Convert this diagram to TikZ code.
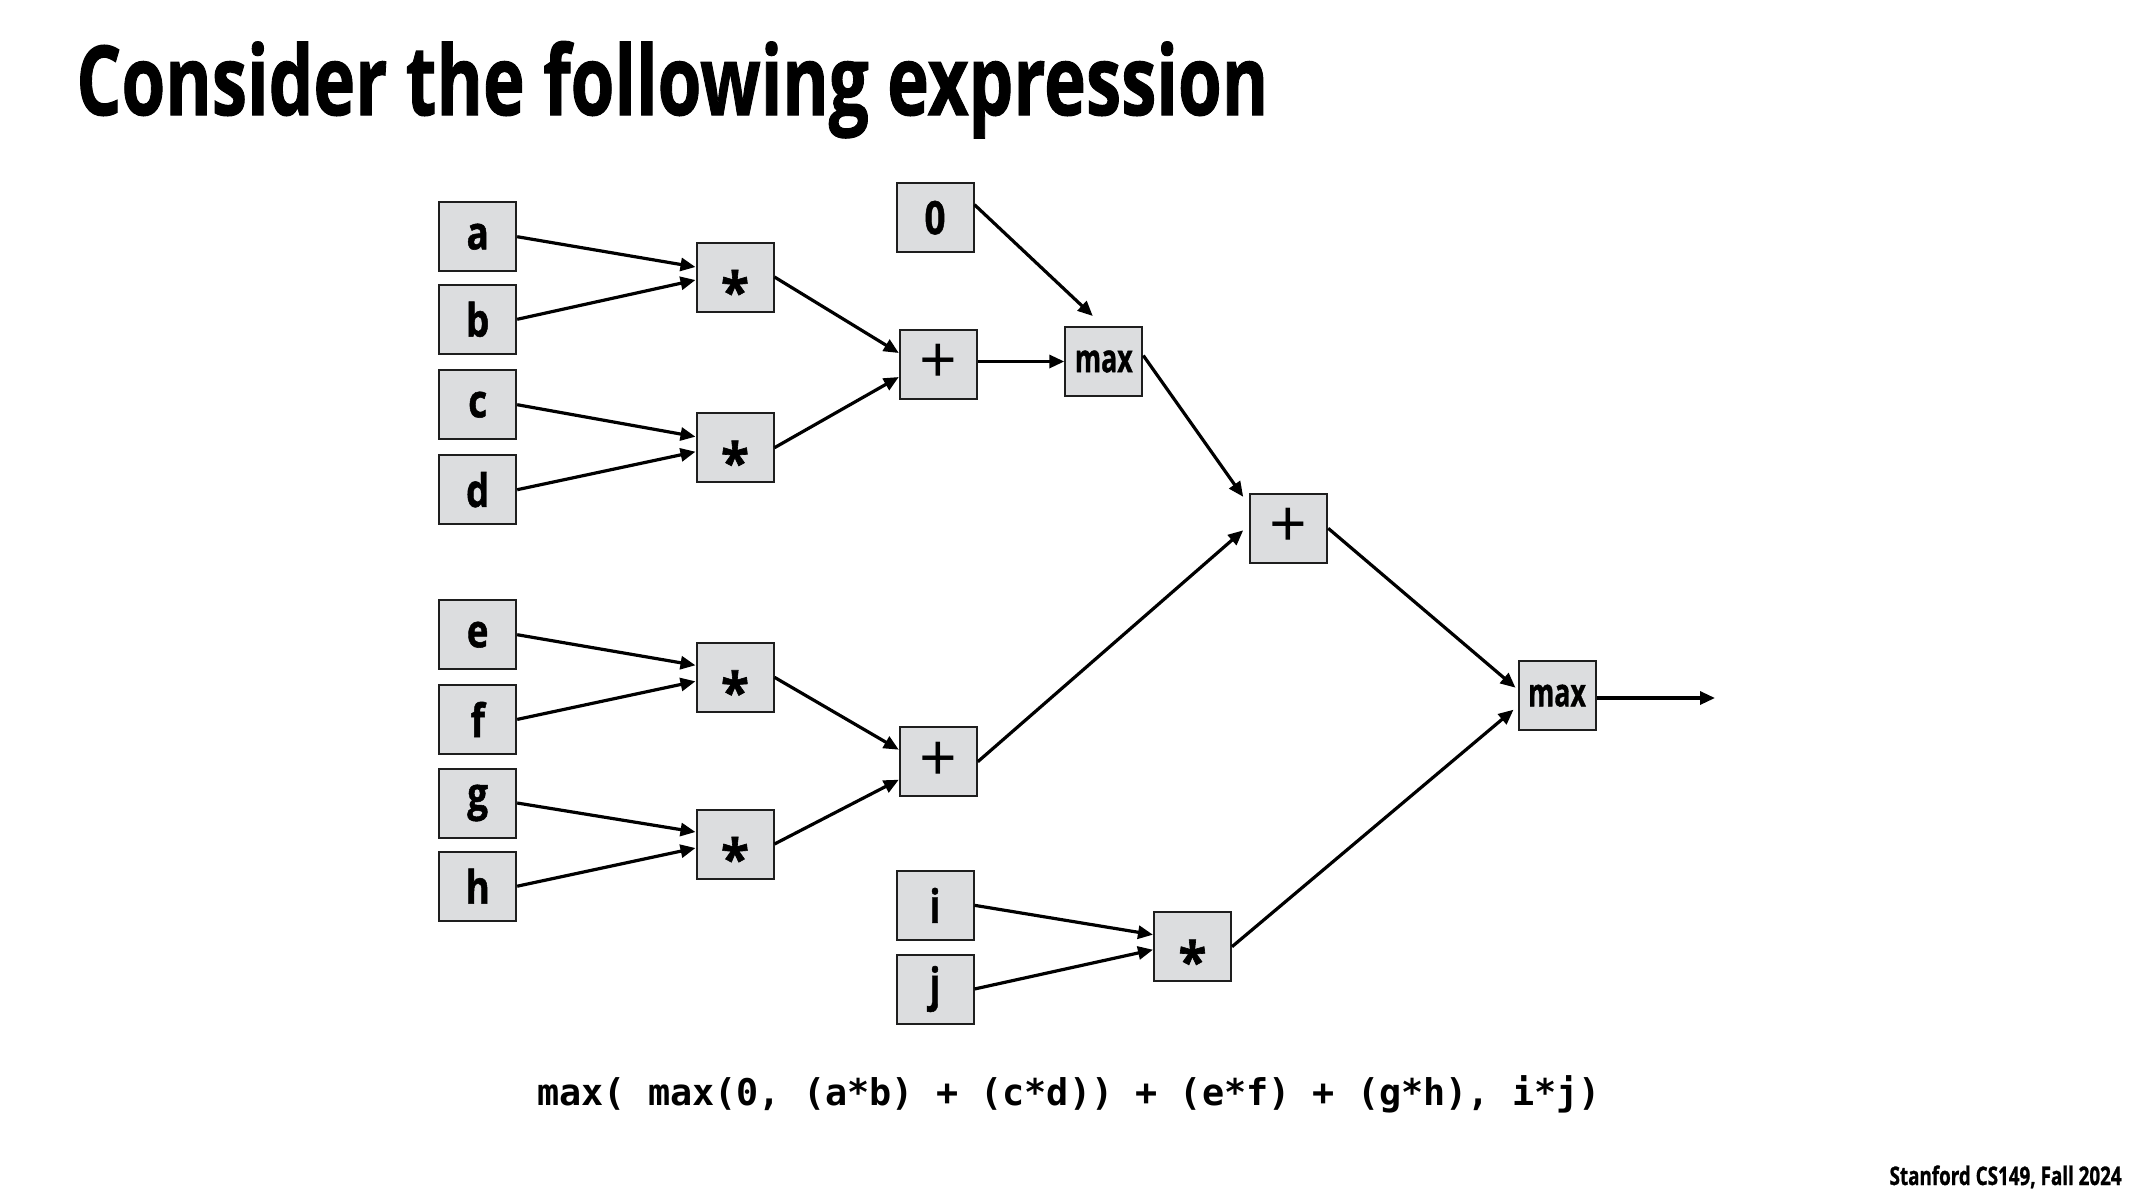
\documentclass[tikz,border=0pt]{standalone}
\usepackage{fontspec}
\usepackage{graphicx}
\usetikzlibrary{arrows.meta,calc}
\newfontfamily\osfont{Open Sans}[BoldFeatures={FakeBold=1.2}]
\newfontfamily\osplain{Open Sans}
\newfontfamily\monofont{DejaVu Sans Mono}
\definecolor{boxgray}{RGB}{220,221,223}
\definecolor{edgegray}{RGB}{30,30,30}
\newcommand{\lbltxt}[1]{\scalebox{0.8}[1]{\osfont\bfseries\fontsize{23pt}{23pt}\selectfont #1}}
\newcommand{\startxt}{\raisebox{-17pt}[0pt][0pt]{\scalebox{0.95}[1]{\osfont\bfseries\fontsize{27pt}{27pt}\selectfont *}}}
\newcommand{\maxtxt}{\resizebox{28.9pt}{\height}{\osfont\bfseries\fontsize{19.5pt}{20pt}\selectfont max}}
\newcommand{\plustxt}{{\osplain\fontsize{33pt}{33pt}\selectfont +}}
\begin{document}
\begin{tikzpicture}[x=0.5pt,y=-0.5pt,
  box/.style={draw=edgegray, line width=1pt, fill=boxgray, minimum width=38.5pt, minimum height=34.5pt, inner sep=0pt},
  conn/.style={line width=1.6pt, draw=black, -{Triangle[length=7.5pt,width=6.5pt]}}]
\useasboundingbox (0,0) rectangle (2133,1200);
\fill[white] (0,0) rectangle (2133,1200);

% title
\node[anchor=base west, inner sep=0pt] (title) at (76,115)
  {\resizebox{596pt}{\height}{\osfont\bfseries\fontsize{48.3pt}{50pt}\selectfont Consider the following expression}};

% inputs
\node[box] (a) at (477.7,236.7) {\lbltxt{a}};
\node[box] (b) at (477.7,319.3) {\lbltxt{b}};
\node[box] (c) at (477.7,404.7) {\lbltxt{c}};
\node[box] (d) at (477.7,489.7) {\lbltxt{d}};
\node[box] (e) at (477.7,634.7) {\lbltxt{e}};
\node[box] (f) at (477.7,719.4) {\lbltxt{f}};
\node[box] (g) at (477.7,803) {\lbltxt{g}};
\node[box] (h) at (477.7,886.2) {\lbltxt{h}};
\node[box] (z) at (935,217.7) {\lbltxt{0}};
\node[box] (i) at (935,905.3) {\lbltxt{i}};
\node[box] (j) at (935,989) {\lbltxt{j}};

% operators
\node[box] (m1) at (735,277) {\startxt};
\node[box] (m2) at (735,447.7) {\startxt};
\node[box] (m3) at (735,677.3) {\startxt};
\node[box] (m4) at (735,844) {\startxt};
\node[box] (m5) at (1192.5,946.7) {\startxt};
\node[box] (p1) at (938.3,364) {\plustxt};
\node[box] (p2) at (938.3,761.7) {\plustxt};
\node[box] (p3) at (1288.7,528.3) {\plustxt};
\node[box] (mx1) at (1103.8,361.5) {\maxtxt};
\node[box] (mF) at (1557,695.7) {\maxtxt};
\coordinate (out) at (1715,698);

% connectors
\draw[conn] (a.east) -- ($(m1.west)+(0,-10)$);
\draw[conn] (b.east) -- ($(m1.west)+(0,3)$);
\draw[conn] (c.east) -- ($(m2.west)+(0,-11)$);
\draw[conn] (d.east) -- ($(m2.west)+(0,4)$);
\draw[conn] (e.east) -- ($(m3.west)+(0,-12)$);
\draw[conn] (f.east) -- ($(m3.west)+(0,4)$);
\draw[conn] (g.east) -- ($(m4.west)+(0,-12)$);
\draw[conn] (h.east) -- ($(m4.west)+(0,4)$);
\draw[conn] (m1.east) -- ($(p1.west)+(0,-11)$);
\draw[conn] (m2.east) -- ($(p1.west)+(0,13)$);
\draw[conn] (m3.east) -- ($(p2.west)+(0,-12)$);
\draw[conn] (m4.east) -- ($(p2.west)+(0,18)$);
\draw[conn] ($(z.east)+(0,-13)$) -- ($(mx1.north)+(-11,-10)$);
\draw[conn] (p1.east |- mx1.west) -- (mx1.west);
\draw[conn] ($(mx1.east)+(0,-6)$) -- ($(p3.north west)+(-6,4)$);
\draw[conn] (p2.east) -- ($(p3.west)+(-6,2)$);
\draw[conn] (i.east) -- ($(m5.west)+(0,-12)$);
\draw[conn] (j.east) -- ($(m5.west)+(0,3)$);
\draw[conn] (p3.east) -- ($(mF.west)+(-2,-8)$);
\draw[conn] (m5.east) -- ($(mF.west)+(-4,14)$);
\draw[conn] (mF.east |- out) -- (out);

% expression
\node[anchor=base west, inner sep=0pt] (expr) at (537,1105)
  {\monofont\bfseries\fontsize{18.4pt}{20pt}\selectfont max( max(0, (a*b) + (c*d)) + (e*f) + (g*h), i*j)};

% footer
\node[anchor=base east, inner sep=0pt] (foot) at (2122,1185)
  {\resizebox{116pt}{\height}{\osfont\bfseries\fontsize{12.8pt}{14pt}\selectfont Stanford CS149, Fall 2024}};
\end{tikzpicture}
\end{document}
